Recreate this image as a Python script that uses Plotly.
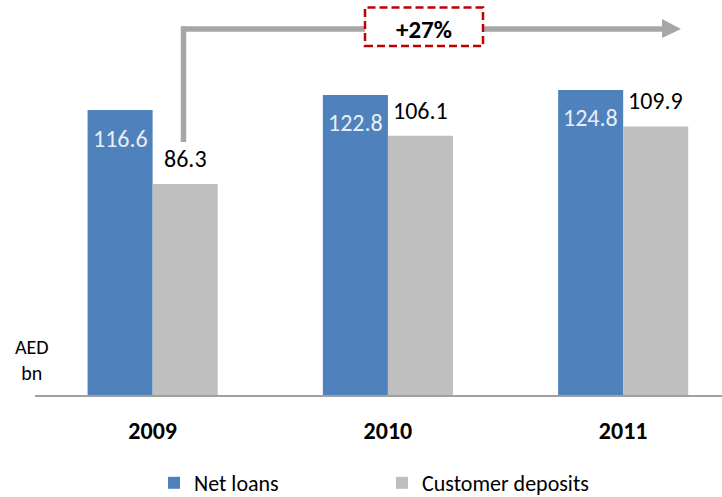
import plotly.graph_objects as go

years = ["2009", "2010", "2011"]
net_loans = [116.6, 122.8, 124.8]
customer_deposits = [86.3, 106.1, 109.9]
growth_label = "+27%"
unit_label = "AED<br>bn"

BLUE = "#4F81BD"
GREY = "#BFBFBF"
ARROW = "#A6A6A6"
FONT = "Carlito, Calibri, 'Open Sans', sans-serif"

# plot area geometry (pixels)
L, R, T, B = 35, 0, 0, 102
W, H = 722, 497
PW, PH = W - L - R, H - T - B


def px(xp):
    return (xp - L) / PW


def py(yp):
    return (H - B - yp) / PH


fig = go.Figure()
fig.add_trace(go.Bar(name="Net loans", x=years, y=net_loans, marker_color=BLUE,
                     marker_line_width=0, hoverinfo="skip"))
fig.add_trace(go.Bar(name="Customer deposits", x=years, y=customer_deposits,
                     marker_color=GREY, marker_line_width=0, hoverinfo="skip"))

# value labels
for i, v in enumerate(net_loans):
    fig.add_annotation(x=i, y=v, text=f"{v:.1f}", showarrow=False, xshift=-32.5, yshift=-28,
                       xanchor="center", yanchor="middle",
                       font=dict(family=FONT, size=24, color="#E8EDF6"))
for i, v in enumerate(customer_deposits):
    fig.add_annotation(x=i, y=v, text=f"{v:.1f}", showarrow=False, xshift=32.5, yshift=25.5,
                       xanchor="center", yanchor="middle",
                       font=dict(family=FONT, size=24, color="#000000"))

# growth arrow
fig.add_shape(type="line", xref="paper", yref="paper", x0=px(183.5), x1=px(183.5), y0=py(142), y1=py(26.5),
              line=dict(color=ARROW, width=5.5))
fig.add_shape(type="line", xref="paper", yref="paper", x0=px(181), x1=px(664), y0=py(29), y1=py(29),
              line=dict(color=ARROW, width=5.5))
fig.add_shape(type="path", xref="paper", yref="paper",
              path=f"M {px(662)} {py(19)} L {px(681)} {py(29)} L {px(662)} {py(38)} Z",
              fillcolor=ARROW, line=dict(width=0))
fig.add_shape(type="rect", xref="paper", yref="paper",
              x0=px(365), x1=px(483), y0=py(46), y1=py(7.5),
              fillcolor="white", line=dict(color="#C00000", width=2.5, dash="8px,4px"))
fig.add_annotation(xref="paper", yref="paper", x=px(424), y=py(29.5), text=f"<b>{growth_label}</b>",
                   xanchor="center", yanchor="middle",
                   showarrow=False, font=dict(family=FONT, size=25, color="#000000"))

# unit label
fig.add_annotation(xref="paper", yref="paper", x=px(32), y=py(360), xanchor="center", yanchor="middle",
                   text=unit_label, showarrow=False, align="center",
                   font=dict(family=FONT, size=20, color="#000000"))

fig.update_layout(
    width=W, height=H,
    margin=dict(l=L, r=R, t=T, b=B, autoexpand=False),
    paper_bgcolor="white", plot_bgcolor="white",
    barmode="group", bargap=0.447, bargroupgap=0,
    showlegend=True,
    legend=dict(orientation="h", x=px(154), xanchor="left", y=py(483), yanchor="middle",
                font=dict(family=FONT, size=22, color="#000000"),
                entrywidth=183, entrywidthmode="pixels", itemwidth=30,
                tracegroupgap=0, bgcolor="rgba(0,0,0,0)"),
    font=dict(family=FONT),
)
fig.update_xaxes(type="category", range=[-0.5, 2.42], showline=True, linecolor="#A0A0A0", linewidth=2,
                 showgrid=False, zeroline=False, ticks="", ticklabelstandoff=13,
                 tickfont=dict(family=FONT, size=24, color="#000000"), tickprefix="<b>", ticksuffix="</b>",
                 fixedrange=True)
fig.update_yaxes(range=[0, PH / 2.444], visible=False, showgrid=False, zeroline=False, fixedrange=True)

fig.write_html("out.html", config={"displayModeBar": False, "staticPlot": True},
               post_script="document.body.style.margin='0';document.body.style.overflow='hidden';")
